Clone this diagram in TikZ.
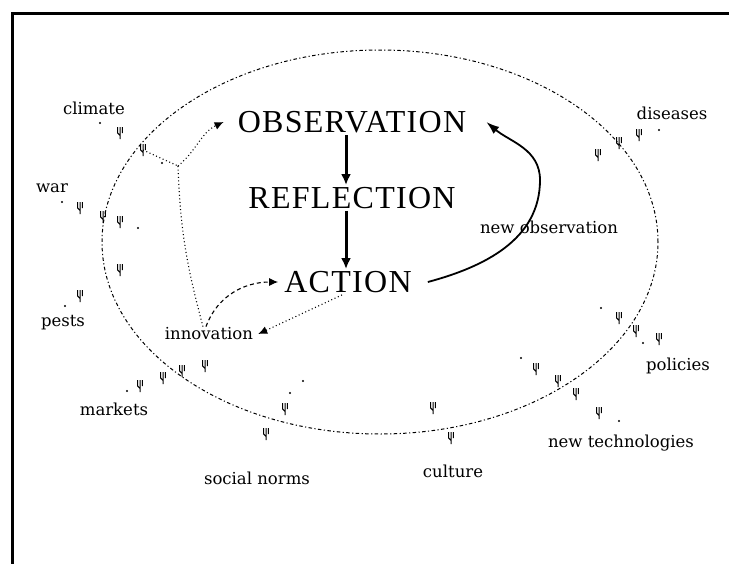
\documentclass[tikz,border=0pt]{standalone}
\usepackage{fontspec}
\setmainfont{Liberation Serif}
\newfontfamily\stageserif[LetterSpace=4]{Liberation Serif}
\newfontfamily\labelserif{DejaVu Serif}
\usetikzlibrary{arrows.meta}

\tikzset{
  stage/.style={font=\stageserif\fontsize{32}{36}\selectfont, inner sep=2pt},
  factor/.style={font=\labelserif\fontsize{16.5}{18}\selectfont, inner sep=1pt},
  rim/.style={line width=1pt, dash pattern=on 1.2pt off 2.4pt on 3.5pt off 2.4pt},
  bigarrow/.style={line width=3pt, -{Latex[length=11pt,width=10pt]}},
  looparrow/.style={line width=1.8pt, -{Latex[length=13pt,width=9pt]}},
  dotline/.style={line width=1.1pt, dash pattern=on 1pt off 2.6pt},
  dotarrow/.style={dotline, -{Latex[length=9pt,width=8pt]}},
  dasharrow/.style={line width=1.1pt, dash pattern=on 4pt off 3pt, -{Latex[length=9pt,width=8pt]}},
  sprout/.pic={\draw [line width=1pt] (0,-6) -- (0,6) (-2.4,-6) -- (-2.4,0) -- (0,2.5) (2.4,-6) -- (2.4,0);}
}

\begin{document}
\begin{tikzpicture}[x=1pt, y=-1pt]
            \useasboundingbox (0,0) rectangle (729,563);
            \draw [line width=3pt] (12.5,13.5) rectangle (760,600);

            \draw [rim] (380,242) ellipse [x radius=278, y radius=192];

            \node [stage] (obs) at (352,122) {OBSERVATION};
            \node [stage] (ref) at (352,198) {REFLECTION};
            \node [stage] (act) at (348,282) {ACTION};

            \node [factor] (inno) at (209,334) {innovation};
            \node [factor] (newobs) at (549,227) {new observation};

            \node [factor] (climate) at (94,108) {climate};
            \node [factor] (war) at (52,188) {war};
            \node [factor] (pests) at (63,323) {pests};
            \node [factor] (markets) at (114,409) {markets};
            \node [factor] (norms) at (257,478) {social norms};
            \node [factor] (culture) at (453,471) {culture};
            \node [factor] (newtech) at (621,443) {new technologies};
            \node [factor] (policies) at (678,366) {policies};
            \node [factor] (diseases) at (672,113) {diseases};

            \draw [bigarrow] ([xshift=-6pt]obs.south) -- ([xshift=-6pt]obs.south |- ref.north);
            \draw [bigarrow] ([xshift=-6pt]obs.south |- ref.south) -- ([xshift=-6pt]obs.south |- act.north);

            \coordinate (bend) at (540,180);
            \draw [looparrow] ([xshift=14pt]act.east) to [out=15,in=-90] (bend) to [out=90,in=-40] ([xshift=18pt]obs.east);

            \coordinate (clim) at (143,150);
            \coordinate (fork) at (178,166);
            \draw [dotline] (clim) -- (fork);
            \draw [dotarrow] (fork) to [out=40,in=205] ([xshift=-12pt]obs.west);
            \draw [dotline] (fork) to [out=-88,in=105] ([xshift=-6pt]inno.north);
            \draw [dasharrow] ([xshift=-3pt]inno.north) to [out=70,in=180] ([xshift=-4pt]act.west);
            \draw [dotarrow] ([xshift=-6pt]act.south) -- ([xshift=4pt]inno.east);

            \foreach \x/\y in {120/133, 143/150, 80/208, 103/217, 120/222, 120/270, 80/296,
                               140/386, 163/378, 182/371, 205/366, 266/434, 285/409,
                               433/408, 451/438, 536/369, 558/381, 576/394, 599/413,
                               619/318, 636/331, 659/339, 598/155, 619/143, 639/135}
              \pic at (\x,\y) {sprout};
            \foreach \x/\y in {100/123, 162/163, 62/202, 138/228, 65/306, 127/391, 290/393,
                               303/381, 521/358, 619/421, 601/308, 643/343, 659/130}
              \fill (\x,\y) circle [radius=1.1];
\end{tikzpicture}
\end{document}
